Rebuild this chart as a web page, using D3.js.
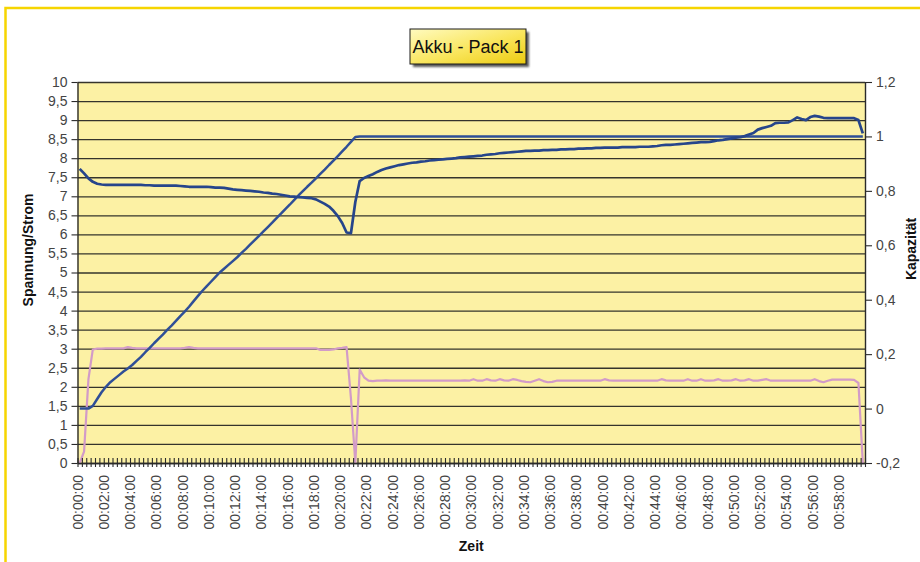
<!DOCTYPE html>
<html>
<head>
<meta charset="utf-8">
<script src="https://cdn.jsdelivr.net/npm/d3@7"></script>
<style>
  html, body { margin: 0; padding: 0; background: #ffffff; }
  svg { display: block; }
  text { font-family: "Liberation Sans", Arial, sans-serif; }
</style>
</head>
<body>
<svg id="chart" width="920" height="562"></svg>
<script>
// Measurement every 20 seconds over one hour of charging
const stepSeconds = 20;
const sampleCount = 180;

// Battery voltage in V (left axis)
const voltage = [
  7.72, 7.60, 7.47, 7.38, 7.33, 7.31, 7.30, 7.30, 7.30, 7.30,
  7.30, 7.30, 7.30, 7.30, 7.30, 7.29, 7.29, 7.28, 7.28, 7.28,
  7.28, 7.28, 7.28, 7.27, 7.26, 7.25, 7.25, 7.25, 7.25, 7.25,
  7.24, 7.23, 7.23, 7.22, 7.20, 7.18, 7.17, 7.16, 7.15, 7.14,
  7.13, 7.12, 7.10, 7.09, 7.07, 7.06, 7.04, 7.02, 7.00, 6.99,
  6.98, 6.97, 6.96, 6.95, 6.92, 6.86, 6.80, 6.73, 6.62, 6.48,
  6.30, 6.05, 6.03, 6.85, 7.40, 7.48, 7.53, 7.58, 7.64, 7.69,
  7.73, 7.76, 7.79, 7.82, 7.84, 7.86, 7.88, 7.89, 7.91, 7.92,
  7.94, 7.95, 7.96, 7.97, 7.98, 7.99, 8.00, 8.02, 8.03, 8.04,
  8.05, 8.06, 8.07, 8.09, 8.10, 8.11, 8.13, 8.14, 8.15, 8.16,
  8.17, 8.18, 8.19, 8.19, 8.20, 8.20, 8.21, 8.21, 8.22, 8.22,
  8.23, 8.23, 8.24, 8.24, 8.25, 8.25, 8.26, 8.26, 8.27, 8.27,
  8.28, 8.28, 8.28, 8.28, 8.29, 8.29, 8.29, 8.29, 8.30, 8.30,
  8.30, 8.31, 8.32, 8.34, 8.35, 8.35, 8.36, 8.37, 8.38, 8.39,
  8.40, 8.41, 8.42, 8.42, 8.43, 8.45, 8.47, 8.48, 8.50, 8.52,
  8.54, 8.55, 8.58, 8.62, 8.66, 8.75, 8.79, 8.82, 8.85, 8.92,
  8.93, 8.93, 8.94, 9.00, 9.07, 9.03, 9.00, 9.08, 9.11, 9.09,
  9.06, 9.05, 9.05, 9.05, 9.05, 9.05, 9.05, 9.05, 9.00, 8.65
];

// Charging current in A (left axis)
const current = [
  0.00, 0.30, 2.20, 2.98, 3.00, 3.00, 3.01, 3.01, 3.01, 3.01,
  3.01, 3.04, 3.02, 3.01, 3.01, 3.01, 3.01, 3.01, 3.01, 3.01,
  3.01, 3.01, 3.01, 3.01, 3.02, 3.04, 3.02, 3.01, 3.01, 3.01,
  3.01, 3.01, 3.01, 3.01, 3.01, 3.01, 3.01, 3.01, 3.01, 3.01,
  3.01, 3.01, 3.01, 3.01, 3.01, 3.01, 3.01, 3.01, 3.01, 3.01,
  3.01, 3.01, 3.01, 3.01, 3.01, 2.97, 2.97, 2.97, 2.98, 3.01,
  3.02, 3.04, 1.70, 0.00, 2.45, 2.25, 2.16, 2.15, 2.16, 2.16,
  2.17, 2.16, 2.16, 2.16, 2.16, 2.16, 2.16, 2.16, 2.16, 2.16,
  2.16, 2.16, 2.16, 2.16, 2.16, 2.16, 2.16, 2.16, 2.17, 2.16,
  2.20, 2.16, 2.16, 2.20, 2.17, 2.16, 2.20, 2.17, 2.16, 2.20,
  2.18, 2.15, 2.13, 2.12, 2.16, 2.20, 2.15, 2.12, 2.13, 2.16,
  2.16, 2.16, 2.16, 2.16, 2.16, 2.16, 2.16, 2.16, 2.16, 2.16,
  2.20, 2.17, 2.16, 2.16, 2.16, 2.16, 2.16, 2.16, 2.16, 2.16,
  2.16, 2.16, 2.16, 2.20, 2.17, 2.16, 2.16, 2.16, 2.16, 2.20,
  2.16, 2.16, 2.20, 2.16, 2.16, 2.17, 2.20, 2.16, 2.16, 2.17,
  2.20, 2.16, 2.17, 2.20, 2.16, 2.16, 2.18, 2.20, 2.16, 2.16,
  2.16, 2.16, 2.16, 2.16, 2.16, 2.16, 2.16, 2.16, 2.20, 2.15,
  2.12, 2.16, 2.19, 2.19, 2.19, 2.19, 2.19, 2.18, 2.10, 0.00
];

// Charged capacity, relative (right axis)
const capacity = [
  0.000, 0.000, 0.000, 0.010, 0.035, 0.060, 0.080, 0.097, 0.110, 0.123,
  0.136, 0.147, 0.160, 0.175, 0.190, 0.207, 0.223, 0.240, 0.256, 0.272,
  0.289, 0.305, 0.322, 0.340, 0.356, 0.374, 0.394, 0.413, 0.432, 0.449,
  0.466, 0.483, 0.500, 0.514, 0.528, 0.542, 0.556, 0.572, 0.587, 0.603,
  0.619, 0.635, 0.651, 0.667, 0.683, 0.700, 0.716, 0.733, 0.749, 0.766,
  0.783, 0.799, 0.815, 0.830, 0.846, 0.862, 0.878, 0.895, 0.911, 0.928,
  0.945, 0.962, 0.980, 0.998, 1, 1, 1, 1, 1, 1,
  1, 1, 1, 1, 1, 1, 1, 1, 1, 1,
  1, 1, 1, 1, 1, 1, 1, 1, 1, 1,
  1, 1, 1, 1, 1, 1, 1, 1, 1, 1,
  1, 1, 1, 1, 1, 1, 1, 1, 1, 1,
  1, 1, 1, 1, 1, 1, 1, 1, 1, 1,
  1, 1, 1, 1, 1, 1, 1, 1, 1, 1,
  1, 1, 1, 1, 1, 1, 1, 1, 1, 1,
  1, 1, 1, 1, 1, 1, 1, 1, 1, 1,
  1, 1, 1, 1, 1, 1, 1, 1, 1, 1,
  1, 1, 1, 1, 1, 1, 1, 1, 1, 1,
  1, 1, 1, 1, 1, 1, 1, 1, 1, 1
];

// Axis ticks
const leftTicks = [0, 0.5, 1, 1.5, 2, 2.5, 3, 3.5, 4, 4.5, 5, 5.5, 6, 6.5, 7, 7.5, 8, 8.5, 9, 9.5, 10];
const rightTicks = [-0.2, 0, 0.2, 0.4, 0.6, 0.8, 1, 1.2];
const labelEvery = 6; // one time label every two minutes

// hh:mm:ss category labels
const pad = n => String(n).padStart(2, "0");
const categories = d3.range(sampleCount).map(i => {
  const s = i * stepSeconds;
  return `${pad(Math.floor(s / 3600))}:${pad(Math.floor(s / 60) % 60)}:${pad(s % 60)}`;
});
const timeLabels = categories.filter((c, i) => i % labelEvery === 0);

const comma = d => String(d).replace(".", ",");

// Layout
const W = 920, H = 562;
const plot = { left: 77.5, right: 865, top: 82, bottom: 463 };

const svg = d3.select("#chart");

// Page background and frame
svg.append("rect").attr("width", W).attr("height", H).attr("fill", "#ffffff");
svg.append("rect")
  .attr("x", 5.5).attr("y", 8).attr("width", W + 20).attr("height", H + 20)
  .attr("fill", "none").attr("stroke", "#f6d500").attr("stroke-width", 2.5);

// Scales
const x = d3.scaleBand().domain(categories).range([plot.left, plot.right]).paddingInner(0).paddingOuter(0);
const xTick = d3.scaleLinear().domain([0, sampleCount]).range([plot.left, plot.right]);
const yL = d3.scaleLinear().domain([0, 10]).range([plot.bottom, plot.top]);
const yR = d3.scaleLinear().domain([-0.2, 1.2]).range([plot.bottom, plot.top]);
const cx = i => x(categories[i]) + x.bandwidth() / 2;

// Plot area
svg.append("rect")
  .attr("x", plot.left).attr("y", plot.top)
  .attr("width", plot.right - plot.left).attr("height", plot.bottom - plot.top)
  .attr("fill", "#fcf1a4");

// Horizontal grid lines
const grid = svg.append("g")
  .attr("transform", `translate(${plot.left},0)`)
  .call(d3.axisLeft(yL).tickValues(leftTicks).tickSize(-(plot.right - plot.left)).tickFormat(""));
grid.select(".domain").remove();
grid.selectAll("line").attr("stroke", "#35342c").attr("stroke-width", 1.3);

// Series lines
const lineL = d3.line().x((d, i) => cx(i)).y(d => yL(d));
const lineR = d3.line().x((d, i) => cx(i)).y(d => yR(d));

svg.append("path").datum(current)
  .attr("d", lineL).attr("fill", "none")
  .attr("stroke", "#d29bc8").attr("stroke-width", 2.2).attr("stroke-linejoin", "round");

svg.append("path").datum(capacity)
  .attr("d", lineR).attr("fill", "none")
  .attr("stroke", "#2f4f97").attr("stroke-width", 2.5).attr("stroke-linejoin", "round");

svg.append("path").datum(voltage)
  .attr("d", lineL).attr("fill", "none")
  .attr("stroke", "#26458b").attr("stroke-width", 2.7).attr("stroke-linejoin", "round");

// Axes
const axisColor = "#2a2a2a";
const labelColor = "#444444";

const leftAxis = svg.append("g")
  .attr("transform", `translate(${plot.left},0)`)
  .call(d3.axisLeft(yL).tickValues(leftTicks).tickSize(6).tickSizeOuter(0).tickPadding(4).tickFormat(comma));

const rightAxis = svg.append("g")
  .attr("transform", `translate(${plot.right},0)`)
  .call(d3.axisRight(yR).tickValues(rightTicks).tickSize(7).tickSizeOuter(0).tickPadding(4).tickFormat(comma));

const tickAxis = svg.append("g")
  .attr("transform", `translate(0,${plot.bottom})`)
  .call(d3.axisBottom(xTick).tickValues(d3.range(0, sampleCount + 1)).tickSize(4).tickSizeOuter(0).tickFormat(""));
tickAxis.selectAll(".tick line").attr("y1", -5);

const labelAxis = svg.append("g")
  .attr("transform", `translate(-2,${plot.bottom})`)
  .call(d3.axisBottom(x).tickValues(timeLabels).tickSize(0).tickSizeOuter(0));
labelAxis.select(".domain").remove();
labelAxis.selectAll("text")
  .attr("transform", "rotate(-90)")
  .attr("text-anchor", "end")
  .attr("x", -12).attr("y", 0).attr("dy", "0.35em");

[leftAxis, rightAxis, tickAxis].forEach(g => {
  g.select(".domain").attr("stroke", axisColor).attr("stroke-width", 1.4);
  g.selectAll(".tick line").attr("stroke", axisColor).attr("stroke-width", 1.1);
});
[leftAxis, rightAxis, labelAxis].forEach(g => {
  g.selectAll("text")
    .attr("font-family", "'Liberation Sans', Arial, sans-serif")
    .attr("font-size", 14).attr("fill", labelColor);
});

// Axis titles
svg.append("text")
  .attr("transform", "translate(32.5,250) rotate(-90)")
  .attr("text-anchor", "middle")
  .attr("font-size", 14).attr("font-weight", "bold").attr("fill", "#111")
  .text("Spannung/Strom");

svg.append("text")
  .attr("transform", "translate(916,249) rotate(-90)")
  .attr("text-anchor", "middle")
  .attr("font-size", 14).attr("font-weight", "bold").attr("fill", "#111")
  .text("Kapazität");

svg.append("text")
  .attr("x", (plot.left + plot.right) / 2).attr("y", 551)
  .attr("text-anchor", "middle")
  .attr("font-size", 14).attr("font-weight", "bold").attr("fill", "#111")
  .text("Zeit");

// Title box
const defs = svg.append("defs");
const grad = defs.append("linearGradient").attr("id", "titleFill")
  .attr("x1", "0%").attr("y1", "0%").attr("x2", "100%").attr("y2", "100%");
grad.append("stop").attr("offset", "0%").attr("stop-color", "#fffbc0");
grad.append("stop").attr("offset", "55%").attr("stop-color", "#f9e55a");
grad.append("stop").attr("offset", "100%").attr("stop-color", "#eccb10");
const shadow = defs.append("filter").attr("id", "soft").attr("x", "-20%").attr("y", "-20%").attr("width", "140%").attr("height", "140%");
shadow.append("feGaussianBlur").attr("stdDeviation", 1.2);

const box = { x: 410, y: 29, w: 116, h: 35 };
svg.append("rect")
  .attr("x", box.x + 3).attr("y", box.y + 3).attr("width", box.w).attr("height", box.h)
  .attr("fill", "#5a5a5a").attr("filter", "url(#soft)");
svg.append("rect")
  .attr("x", box.x).attr("y", box.y).attr("width", box.w).attr("height", box.h)
  .attr("fill", "url(#titleFill)").attr("stroke", "#1a1a1a").attr("stroke-width", 1);
svg.append("text")
  .attr("x", box.x + box.w / 2).attr("y", box.y + box.h / 2 + 6)
  .attr("text-anchor", "middle")
  .attr("font-family", "'Liberation Sans Narrow', 'Liberation Sans', Arial, sans-serif")
  .attr("font-size", 18).attr("fill", "#111")
  .text("Akku - Pack 1");
</script>
</body>
</html>
